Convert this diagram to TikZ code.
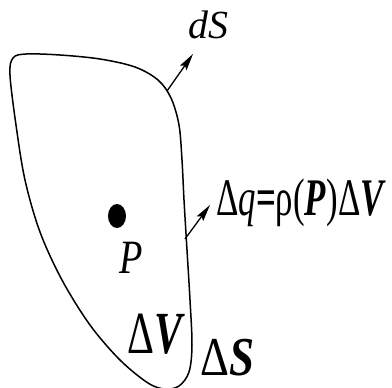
\documentclass[tikz,border=0pt]{standalone}
\usepackage{fontspec}
\setmainfont{Liberation Serif}
\usepackage{graphicx}
\usepackage{tikz}
\usetikzlibrary{arrows.meta, positioning, calc}

\newcommand{\narrow}[2]{\scalebox{#1}[1]{#2}}

\begin{document}
\begin{tikzpicture}[x=1bp, y=-1bp,
  bound/.style={line width=1.5bp, line join=round},
  arr/.style={-{Stealth[length=17bp, width=8bp, inset=3bp]}, line width=1.3bp},
  lbl/.style={inner sep=0pt, anchor=base west}
]
\useasboundingbox (0,0) rectangle (392,388);

% surface bounding the volume
\draw[bound] plot[smooth cycle, tension=0.55] coordinates {
  (13,58) (26,54) (60,55) (100,59) (135,67) (158,80) (171,98)
  (179,125) (182,160) (184,200) (187,250) (190,300) (192,345)
  (189,372) (179,386) (165,389) (148,383) (120,360) (90,325)
  (62,280) (40,232) (25,180) (16,125) (10,75)};

% point P
\fill (117,216) ellipse (9 and 12);

\coordinate (dsfoot) at (167,91);
\coordinate (dstip)  at (193,54);
\coordinate (dqfoot) at (185,239);
\coordinate (dqtip)  at (210,205);

\draw[arr] (dsfoot) -- (dstip);
\draw[arr] (dqfoot) -- (dqtip);

\node[lbl, font=\fontsize{40pt}{40pt}\selectfont] (dS) at (188,38) {\textit{dS}};
\node[lbl, font=\fontsize{48pt}{48pt}\selectfont] (plbl) at (119,273)
  {\narrow{0.8}{\textit{P}}};
\node[lbl, font=\fontsize{60pt}{60pt}\selectfont] (dV) at (127,353)
  {\narrow{0.7}{Δ\textbf{\textit{V}}}};
\node[lbl, font=\fontsize{55pt}{55pt}\selectfont] (dSS) at (200,375)
  {\narrow{0.82}{Δ\textbf{\textit{S}}}};
\node[lbl, font=\fontsize{53pt}{53pt}\selectfont] (dq) at (216,215)
  {\narrow{0.66}{Δ\textit{q}\textbf{=}ρ(\textbf{\textit{P}})Δ\textbf{\textit{V}}}};
\end{tikzpicture}
\end{document}
